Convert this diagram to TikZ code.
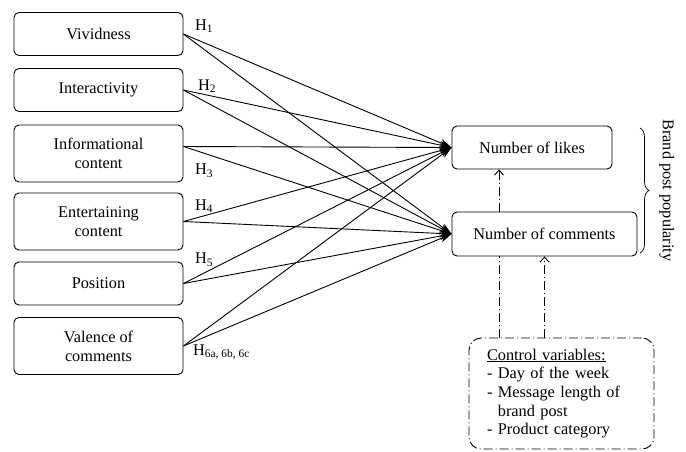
\documentclass[tikz,border=0pt]{standalone}
\usepackage{fontspec}
\setmainfont{Liberation Serif}
\usetikzlibrary{arrows.meta,decorations.pathreplacing}
\begin{document}
\begin{tikzpicture}[x=1pt, y=-1pt, font=\fontsize{16.3}{18.7}\selectfont,
          box/.style={draw, rounded corners=5pt, line width=0.9pt, align=center, inner sep=0pt, minimum width=169pt, minimum height=43pt},
          tall/.style={box, minimum height=57pt},
          link/.style={line width=0.9pt, -{Stealth[length=12pt,width=8pt]}},
          ctrl/.style={line width=0.9pt, dash pattern=on 9pt off 3pt on 1pt off 3pt},
          hyp/.style={anchor=west, inner sep=0pt}]
          \useasboundingbox (0,0) rectangle (686,451);
          % drivers
          \node[box] (viv) at (98.5,34) {Vividness};
          \node[box] (inter) at (98.5,90) {Interactivity};
          \node[tall] (info) at (98.5,153.5) {Informational\\content};
          \node[tall] (ent) at (98.5,221.5) {Entertaining\\content};
          \node[box] (pos) at (98.5,283.5) {Position};
          \node[tall] (val) at (98.5,346) {Valence of\\comments};
          % outcomes
          \node[box, minimum width=160pt] (likes) at (532,147.5) {Number of likes};
          \node[box, minimum width=185pt, minimum height=44pt] (comm) at (544.5,234) {Number of comments};
          \node[ctrl, draw, rounded corners=12pt, minimum width=185pt, minimum height=111pt, text width=149pt, align=left, inner sep=0pt] (cv) at (561.5,393.5)
            {\underline{Control variables:}\\- Day of the week\\- Message length of\\\phantom{- }brand post\\- Product category};
          % hypotheses
          \node[hyp] (h1) at (195,26) {H\textsubscript{1}};
          \node[hyp] (h2) at (198,86) {H\textsubscript{2}};
          \node[hyp] (h3) at (195,171) {H\textsubscript{3}};
          \node[hyp] (h4) at (195,206) {H\textsubscript{4}};
          \node[hyp] (h5) at (195,260) {H\textsubscript{5}};
          \node[hyp] (h6) at (193,352) {H\textsubscript{6a, 6b, 6c}};
          \foreach \src/\dy in {viv/0, inter/0, info/7, ent/0, pos/0, val/0} {
            \draw[link] ([yshift=\dy pt]\src.east) -- (likes.west);
            \draw[link] ([yshift=\dy pt]\src.east) -- (comm.west);
          }
          % control paths
          \coordinate (cx) at (499,0);
          \draw[ctrl] (cv.north -| cx) -- (comm.south -| cx);
          \draw[ctrl, -{Straight Barb[length=5pt,width=9pt]}] (comm.north -| cx) -- (likes.south -| cx);
          \draw[ctrl, -{Straight Barb[length=5pt,width=9pt]}] (cv.north -| comm.south) -- (comm.south);
          % popularity brace
          \coordinate (btop) at (640,128);
          \coordinate (bbot) at (640,253);
          \draw[line width=0.7pt, decorate, decoration={brace, amplitude=9pt}] (btop) -- (bbot)
            node[midway, right=19pt, rotate=-90, anchor=south, inner sep=0pt] (pop) {Brand post popularity};
\end{tikzpicture}
\end{document}
